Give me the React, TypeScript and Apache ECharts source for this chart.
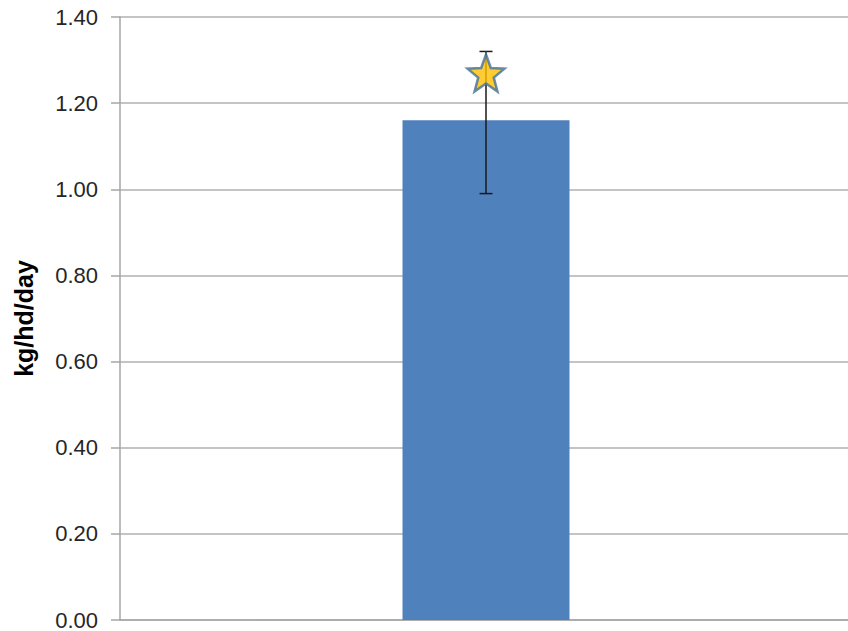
import React, { useEffect, useRef } from "react";
import * as echarts from "echarts";

const categories = [""];
const barValues = [1.16];
const errorLow = [0.99];
const errorHigh = [1.32];
const starValues = [1.27];
const yTicks = { min: 0, max: 1.4, interval: 0.2 };

function starPath(points: number, inner: number): string {
  const pts: string[] = [];
  for (let i = 0; i < points * 2; i++) {
    const r = i % 2 === 0 ? 1 : inner;
    const a = -Math.PI / 2 + (i * Math.PI) / points;
    pts.push(`${(r * Math.cos(a)).toFixed(4)} ${(r * Math.sin(a)).toFixed(4)}`);
  }
  return "path://M" + pts.join(" L") + " Z";
}

export default function App() {
  const ref = useRef<HTMLDivElement>(null);
  useEffect(() => {
    if (!ref.current) return;
    const chart = echarts.init(ref.current, null, { renderer: "svg" });
    const font = "'Liberation Sans', Arial, sans-serif";
    chart.setOption({
      animation: false,
      grid: { left: 120, right: -4, top: 17, bottom: 11, containLabel: false, outerBoundsMode: "none" },
      xAxis: {
        type: "category",
        data: categories,
        axisLine: { show: true, lineStyle: { color: "#A6A6A6", width: 1.5 } },
        axisTick: { show: false },
        axisLabel: { show: false },
      },
      yAxis: {
        type: "value",
        min: yTicks.min,
        max: yTicks.max,
        interval: yTicks.interval,
        name: "kg/hd/day",
        nameLocation: "middle",
        nameGap: 84,
        nameTextStyle: { fontFamily: font, fontSize: 25, fontWeight: "bold", color: "#000" },
        axisLine: { show: true, lineStyle: { color: "#A6A6A6", width: 1.5 } },
        axisTick: { show: true, length: 9, lineStyle: { color: "#A6A6A6", width: 1.5 } },
        splitLine: { show: true, lineStyle: { color: "#B0B0B0", width: 1.5 } },
        axisLabel: {
          fontFamily: font,
          fontSize: 22,
          lineHeight: 18,
          color: "#262626",
          margin: 22,
          formatter: (v: number) => v.toFixed(2),
        },
      },
      series: [
        {
          type: "bar",
          data: barValues,
          barWidth: 167,
          itemStyle: { color: "#4F81BD" },
        },
        {
          type: "custom",
          data: categories.map((_, i) => [i, errorLow[i], errorHigh[i]]),
          renderItem: (params: any, api: any) => {
            const x = api.value(0);
            const lo = api.coord([x, api.value(1)]);
            const hi = api.coord([x, api.value(2)]);
            const cap = 6.5;
            const style = { stroke: "#1A1A1A", lineWidth: 1.5 };
            return {
              type: "group",
              children: [
                { type: "line", shape: { x1: lo[0], y1: lo[1], x2: hi[0], y2: hi[1] }, style },
                { type: "line", shape: { x1: lo[0] - cap, y1: lo[1], x2: lo[0] + cap, y2: lo[1] }, style },
                { type: "line", shape: { x1: hi[0] - cap, y1: hi[1], x2: hi[0] + cap, y2: hi[1] }, style },
              ],
            };
          },
          z: 5,
        },
        {
          type: "scatter",
          data: starValues,
          symbol: starPath(5, 0.42),
          symbolSize: 37,
          itemStyle: { color: "#FFC000", borderColor: "#41719C", borderWidth: 2.5 },
          z: 10,
        },
      ],
    });
    return () => chart.dispose();
  }, []);
  return (
    <div
      ref={ref}
      style={{ position: "absolute", left: 0, top: 0, width: 848, height: 631, overflow: "hidden" }}
    />
  );
}
